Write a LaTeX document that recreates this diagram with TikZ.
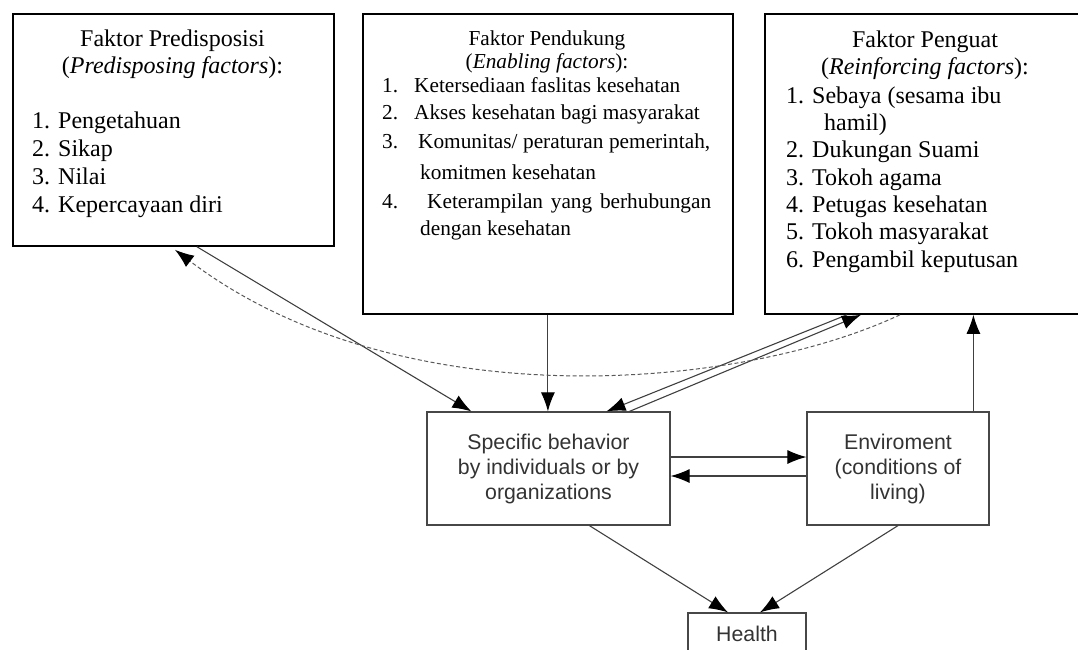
\documentclass[tikz,border=0pt]{standalone}
\usepackage{fontspec}
\setmainfont{Liberation Serif}
\newfontfamily\arialfont{Liberation Sans}
\usetikzlibrary{arrows.meta,positioning}

\begin{document}
\begin{tikzpicture}[x=1pt, y=-1pt,
  factorbox/.style={draw=black, line width=1.8pt, anchor=north west, inner sep=0pt},
  modelbox/.style={draw=black!72, line width=1.2pt, align=center, inner sep=0pt,
    text=black!80, font=\arialfont\fontsize{21.3}{25}\selectfont},
  titletext/.style={anchor=base, align=center, inner sep=0pt},
  listtext/.style={anchor=base west, align=left, inner sep=0pt},
  conn/.style={draw=black!75, line width=1.1pt, -{Latex[length=19pt,width=14pt,black]}},
  dashconn/.style={draw=black!65, line width=1pt, dash pattern=on 4pt off 2.5pt,
    -{Latex[length=19pt,width=14pt,black]}}]
\useasboundingbox (0,0) rectangle (1078,649);
\clip (0,0) rectangle (1078,649);

% the three groups of factors
\node[factorbox, minimum width=321pt, minimum height=232pt] (predis) at (12,13) {};
\node[factorbox, minimum width=370pt, minimum height=300pt] (enab) at (362,13) {};
\node[factorbox, minimum width=330pt, minimum height=300pt] (reinf) at (764,13) {};

% (multi-line texts are placed by the baseline of their last line)
\node[titletext, font=\fontsize{24}{27}\selectfont] (predistitle) at (172.5,73)
  {Faktor Predisposisi\\(\textit{Predisposing factors}):};
\node[listtext, font=\fontsize{24}{27.7}\selectfont] (predislist) at (32,212)
  {1. Pengetahuan\\2. Sikap\\3. Nilai\\4. Kepercayaan diri};

\node[titletext, font=\fontsize{21.3}{23}\selectfont] (enabtitle) at (547,68)
  {Faktor Pendukung\\(\textit{Enabling factors}):};
\node[listtext, font=\fontsize{21.3}{27}\selectfont] (enablist) at (382,235)
  {\makebox[32pt][l]{1.}Ketersediaan faslitas kesehatan\\
   \makebox[32pt][l]{2.}Akses kesehatan bagi masyarakat\\[2pt]
   \makebox[36pt][l]{3.}\makebox[292pt][s]{Komunitas/ peraturan pemerintah,}\\[4pt]
   \hspace*{38pt}komitmen kesehatan\\[2pt]
   \makebox[45pt][l]{4.}\makebox[284pt][s]{Keterampilan yang berhubungan}\\
   \hspace*{38pt}dengan kesehatan};

\node[titletext, font=\fontsize{24}{27}\selectfont] (reinftitle) at (925,74)
  {Faktor Penguat\\(\textit{Reinforcing factors}):};
\node[listtext, font=\fontsize{24}{27.3}\selectfont] (reinflist) at (786,267)
  {1. Sebaya (sesama ibu\\\hspace*{38pt}hamil)\\2. Dukungan Suami\\3. Tokoh agama\\
   4. Petugas kesehatan\\5. Tokoh masyarakat\\6. Pengambil keputusan};

% behaviour, environment and health
\node[modelbox, minimum width=243pt, minimum height=113pt] (behav) at (548.5,468.5)
  {Specific behavior\\by individuals or by\\organizations};
\node[modelbox, minimum width=182pt, minimum height=113pt] (env) at (898,468.5)
  {Enviroment\\(conditions of\\living)};
\node[modelbox, minimum width=118pt, minimum height=42pt] (health) at (747,634) {Health};

% connectors
\draw[conn] ([xshift=185pt]predis.south west) -- ([xshift=45pt]behav.north west);
\draw[conn] (enab.south) -- (enab.south |- behav.north);
\draw[conn] ([xshift=83pt]reinf.south west) -- ([xshift=180pt]behav.north west);
\draw[conn] ([xshift=203pt]behav.north west) -- ([xshift=97pt]reinf.south west);
\draw[dashconn] ([xshift=136pt]reinf.south west) .. controls (740,390) and (400,420)
  .. ([shift={(163pt,-3pt)}]predis.south west);
\draw[conn] ([xshift=167pt]env.north west) -- ([xshift=167pt]env.north west |- reinf.south);
\draw[conn] ([yshift=11.5pt]behav.east) -- ([yshift=11.5pt]env.west);
\draw[conn] ([yshift=-7.5pt]env.west) -- ([yshift=-7.5pt]behav.east);
\draw[conn] ([xshift=163pt]behav.south west) -- ([xshift=-19pt]health.north);
\draw[conn] (env.south) -- ([xshift=13pt]health.north);
\end{tikzpicture}
\end{document}
